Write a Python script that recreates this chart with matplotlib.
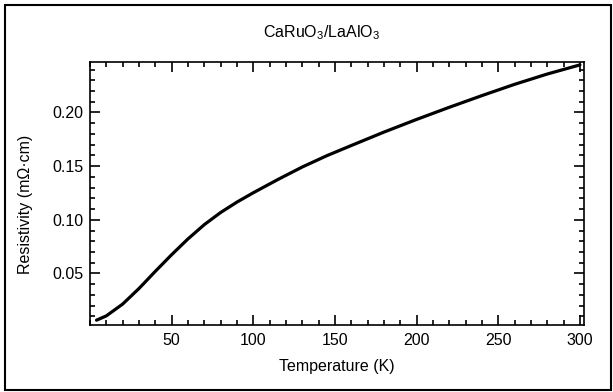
import matplotlib
matplotlib.use('Agg')
import matplotlib.pyplot as plt
from matplotlib.patches import Rectangle
from matplotlib.ticker import MultipleLocator

plt.rcParams['font.family'] = ['Liberation Sans', 'DejaVu Sans']
plt.rcParams['mathtext.fontset'] = 'custom'
plt.rcParams['mathtext.rm'] = 'Liberation Sans'
plt.rcParams['mathtext.it'] = 'Liberation Sans'

# resistivity vs temperature, CaRuO3 film on LaAlO3
temperature = [4, 10, 20, 30, 40, 50, 60, 70, 80, 90, 100, 115, 130, 145,
               160, 180, 200, 220, 240, 260, 280, 300]
resistivity = [0.0065, 0.0105, 0.0215, 0.036, 0.052, 0.0675, 0.0822, 0.0955,
               0.1068, 0.1165, 0.1252, 0.1375, 0.1492, 0.1597, 0.1692, 0.1817,
               0.1935, 0.2048, 0.2157, 0.2262, 0.2358, 0.2443]

W, H = 613, 392
fig = plt.figure(figsize=(W / 100, H / 100), dpi=100)
ax = fig.add_axes([90 / W, 1 - 325 / H, (584 - 90) / W, (325 - 62) / H])

ax.plot(temperature, resistivity, color='black', lw=2.3, solid_capstyle='round')

ax.set_xlim(0, 302.5)
ax.set_ylim(0.002, 0.247)
ax.xaxis.set_minor_locator(MultipleLocator(10))
ax.yaxis.set_minor_locator(MultipleLocator(0.01))
ax.set_xticks([50, 100, 150, 200, 250, 300])
ax.set_yticks([0.05, 0.10, 0.15, 0.20])
ax.set_yticklabels(['0.05', '0.10', '0.15', '0.20'])

ax.tick_params(which='both', direction='in', top=True, right=True,
               width=1.2, labelsize=11.5)
ax.tick_params(which='major', length=7.5)
ax.tick_params(which='minor', length=3.5)
ax.tick_params(axis='x', pad=6)
ax.tick_params(axis='y', pad=5)
for s in ax.spines.values():
    s.set_linewidth(1.2)

ax.set_xlabel('Temperature (K)', fontsize=11.5, labelpad=8)
ax.set_ylabel('Resistivity (m\u03a9\u00b7cm)', fontsize=11.5)
ax.yaxis.set_label_coords(-0.115, 0.46)

fig.text(322 / W, 1 - 33 / H, r'CaRuO$_3$/LaAlO$_3$', ha='center', va='center',
         fontsize=11.5)

# frame around the whole figure
fig.patches.append(Rectangle((5 / W, 2 / H), 606 / W, 385 / H, fill=False,
                             edgecolor='black', lw=1.5, transform=fig.transFigure))

fig.savefig('out.png', dpi=100)
